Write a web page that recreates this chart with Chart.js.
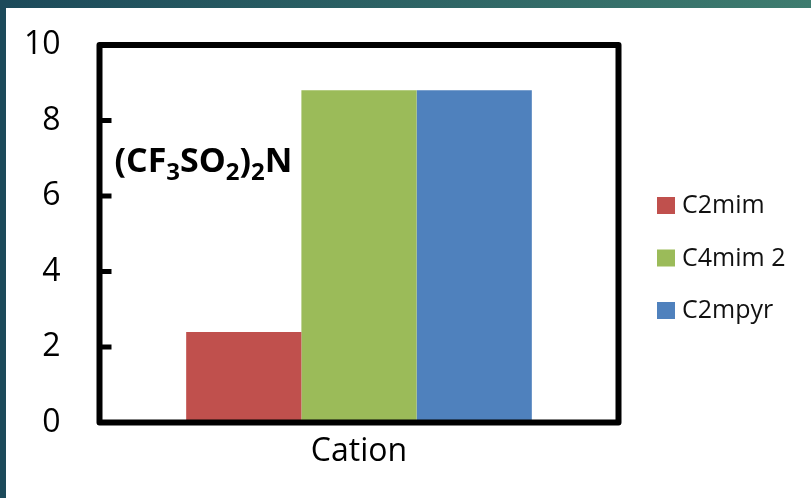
<!DOCTYPE html>
<html>
<head>
<meta charset="utf-8">
<script src="https://cdn.jsdelivr.net/npm/chart.js@4.4.1/dist/chart.umd.min.js"></script>
<style>
  html, body { margin: 0; padding: 0; background: #fff; }
  #wrap { width: 811px; height: 498px; }
</style>
</head>
<body>
<div id="wrap"><canvas id="myChart" width="811" height="498"></canvas></div>
<script>
// data
const categories = ["Cation"];
const seriesNames = ["C2mim", "C4mim 2", "C2mpyr"];
const seriesValues = [[2.4], [8.8], [8.8]];
const seriesColours = ["#C0504D", "#9BBB59", "#4F81BD"];
const yTicks = [0, 2, 4, 6, 8, 10];

const FONT = "'Open Sans', 'DejaVu Sans', sans-serif";

// slide-style teal strips along the top and left edge
const slideEdge = {
  id: "slideEdge",
  beforeDraw(chart) {
    const { ctx, width, height } = chart;
    ctx.save();
    ctx.fillStyle = "#ffffff";
    ctx.fillRect(0, 0, width, height);
    const grad = ctx.createLinearGradient(0, 0, width, 0);
    grad.addColorStop(0, "#1c4a5a");
    grad.addColorStop(1, "#3e7c6f");
    ctx.fillStyle = grad;
    ctx.fillRect(0, 0, width, 8);
    ctx.fillStyle = "#1c4a5a";
    ctx.fillRect(0, 0, 6, height);
    ctx.restore();
  },
};

// thick box round the plot + inward ticks on the value axis
const plotFrame = {
  id: "plotFrame",
  afterDatasetsDraw(chart) {
    const {
      ctx,
      chartArea: { top, bottom, left, right },
      scales: { y },
    } = chart;
    ctx.save();
    ctx.strokeStyle = "#000";
    ctx.lineWidth = 6;
    ctx.lineJoin = "round";
    ctx.strokeRect(left, top, right - left, bottom - top);
    ctx.lineWidth = 5;
    yTicks.slice(1, -1).forEach((v) => {
      const py = y.getPixelForValue(v);
      ctx.beginPath();
      ctx.moveTo(left, py);
      ctx.lineTo(left + 12, py);
      ctx.stroke();
    });
    ctx.restore();
  },
};

// anion label inside the plot: (CF3SO2)2N with subscripts
const anionLabel = {
  id: "anionLabel",
  afterDatasetsDraw(chart) {
    const {
      ctx,
      chartArea: { left },
      scales: { y },
    } = chart;
    const parts = [
      ["(CF", false],
      ["3", true],
      ["SO", false],
      ["2", true],
      [")", false],
      ["2", true],
      ["N", false],
    ];
    let px = left + 15;
    const base = y.getPixelForValue(6.64);
    ctx.save();
    ctx.fillStyle = "#000";
    ctx.textBaseline = "alphabetic";
    ctx.textAlign = "left";
    parts.forEach(([txt, sub]) => {
      ctx.font = sub ? `bold 24px ${FONT}` : `bold 34px ${FONT}`;
      ctx.fillText(txt, px, sub ? base + 8 : base);
      px += ctx.measureText(txt).width;
    });
    ctx.restore();
  },
};

// legend on the right, square swatches
const sideLegend = {
  id: "sideLegend",
  afterDraw(chart) {
    const { ctx } = chart;
    ctx.save();
    ctx.font = `25px ${FONT}`;
    ctx.textBaseline = "middle";
    ctx.textAlign = "left";
    chart.data.datasets.forEach((ds, i) => {
      const cy = 205 + i * 52.5;
      ctx.fillStyle = ds.backgroundColor;
      ctx.fillRect(657, cy - 8, 18, 17);
      ctx.fillStyle = "#111";
      ctx.fillText(ds.label, 682, cy + 1);
    });
    ctx.restore();
  },
};

const data = {
  labels: categories,
  datasets: seriesNames.map((name, i) => ({
    label: name,
    data: seriesValues[i],
    backgroundColor: seriesColours[i],
    borderWidth: 0,
    categoryPercentage: 0.666,
    barPercentage: 1.0,
  })),
};

const config = {
  type: "bar",
  data,
  options: {
    responsive: false,
    animation: false,
    layout: {
      padding: { top: 45, right: 192.5, bottom: 0, left: 0 },
    },
    scales: {
      x: {
        grid: { display: false, drawTicks: false },
        border: { display: false },
        ticks: {
          color: "#000",
          padding: 10,
          font: { family: FONT, size: 32 },
        },
        afterFit(scale) {
          scale.height = 75.5;
        },
      },
      y: {
        min: 0,
        max: 10,
        // label gap comes from tickLength so it doesn't push the plot down
        grid: { display: false, drawTicks: true, tickLength: 39, tickColor: "transparent" },
        border: { display: false },
        ticks: {
          stepSize: 2,
          color: "#000",
          padding: 0,
          font: { family: FONT, size: 32 },
        },
        afterFit(scale) {
          scale.width = 99.5;
        },
      },
    },
    plugins: {
      legend: { display: false },
      tooltip: { enabled: false },
    },
  },
  plugins: [slideEdge, plotFrame, anionLabel, sideLegend],
};

const myChart = new Chart(document.getElementById("myChart"), config);
</script>
</body>
</html>
